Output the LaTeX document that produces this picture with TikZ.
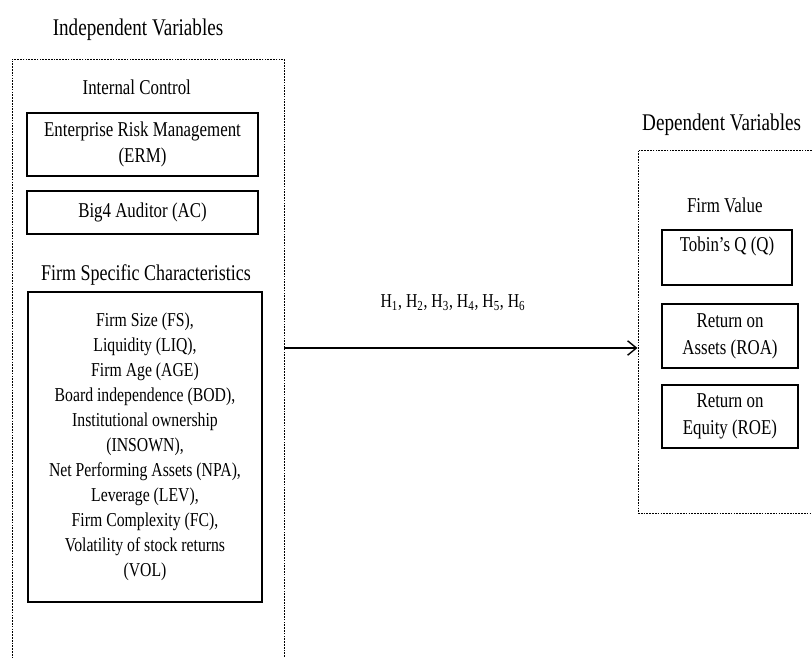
\documentclass[tikz,border=0pt]{standalone}
\usepackage{fontspec}
\setmainfont{Liberation Serif}[FakeStretch=0.8]
\usetikzlibrary{arrows.meta, positioning}
\tikzset{
    groupbox/.style={
        draw=black,
        line width=0.7pt,
        dash pattern=on 1.2pt off 0.8pt,
        inner sep=0pt
    },
    varbox/.style={
        draw=black,
        line width=1pt,
        fill=white,
        minimum width=#1,
        align=center,
        inner sep=3pt,
        font=\fontsize{15}{19}\selectfont
    },
    varbox/.default=5.775cm,
    heading/.style={
        font=\fontsize{17}{20}\selectfont
    },
    sublabel/.style={
        font=\fontsize{15}{18}\selectfont
    },
    arrow/.style={
        -{Straight Barb[length=2.2mm, width=3.6mm]},
        line width=1pt,
        black
    }
}

\begin{document}
\begin{tikzpicture}
        \useasboundingbox (0,0) rectangle (20.3,-16.425);
        \clip (0,0) rectangle (20.3,-16.425);

        % Independent variables
        \node[heading] (indeptitle) at (3.45,-0.75) {Independent Variables};
        \node[groupbox, minimum width=6.8cm, minimum height=15.6cm] (indep) at (3.7,-9.275) {};

        \node[sublabel] (intctrl) at (3.42,-2.17) {Internal Control};
        \node[varbox, minimum height=1.575cm] (erm) at (3.5625,-3.6125) {Enterprise Risk Management\\(ERM)};
        \node[varbox, minimum height=1.075cm] (big4) at (3.5625,-5.3125) {Big4 Auditor (AC)};

        \node[heading, font=\fontsize{16}{19}\selectfont] (fsclabel) at (3.65,-6.875) {Firm Specific Characteristics};
        \node[varbox=5.85cm, minimum height=7.75cm, font=\fontsize{14}{17.8}\selectfont] (fsc) at (3.625,-11.175) {
            Firm Size (FS),\\
            Liquidity (LIQ),\\
            Firm Age (AGE)\\
            Board independence (BOD),\\
            Institutional ownership\\
            (INSOWN),\\
            Net Performing Assets (NPA),\\
            Leverage (LEV),\\
            Firm Complexity (FC),\\
            Volatility of stock returns\\
            (VOL)
        };

        % Dependent variables
        \node[heading] (deptitle) at (18.04,-3.125) {Dependent Variables};
        \node[groupbox, minimum width=6cm, minimum height=9.075cm] (dep) at (18.95,-8.2875) {};

        \node[sublabel] (firmvalue) at (18.12,-5.125) {Firm Value};
        \node[varbox=3.25cm, minimum height=1.375cm] (tobin) at (18.175,-6.4375) {Tobin’s Q (Q)\\\mbox{}};
        \node[varbox=3.4cm, minimum height=1.6cm] (roa) at (18.25,-8.4) {Return on\\Assets (ROA)};
        \node[varbox=3.4cm, minimum height=1.575cm] (roe) at (18.25,-10.4125) {Return on\\Equity (ROE)};

        % Hypotheses arrow
        \coordinate (hstart) at (indep.east |- 0,-8.7);
        \draw[arrow] (hstart) -- (hstart -| dep.west);
        \node[font=\fontsize{14}{16}\selectfont] (hyp) at (11.325,-7.575)
            {H\textsubscript{1}, H\textsubscript{2}, H\textsubscript{3}, H\textsubscript{4}, H\textsubscript{5}, H\textsubscript{6}};
    \end{tikzpicture}
\end{document}
